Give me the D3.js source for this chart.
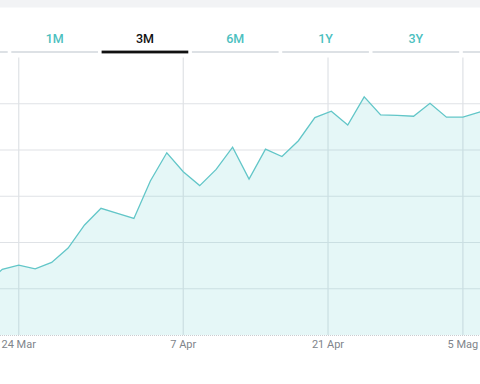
<!DOCTYPE html>
<html>
<head>
<meta charset="utf-8">
<script src="https://cdn.jsdelivr.net/npm/d3@7/dist/d3.min.js"></script>
<style>
  html, body { margin: 0; padding: 0; background: #fff; overflow: hidden; }
  svg { display: block; }
</style>
</head>
<body>
<svg id="chart" width="480" height="384"></svg>
<script>
// ---- data ----
const tabIds = ["t0", "t1", "t2", "t3", "t4", "t5", "t6"];
const tabLabels = ["", "1M", "3M", "6M", "1Y", "3Y", ""];
const activeTab = "t2";

const dates = [
  "2025-03-20","2025-03-21","2025-03-24","2025-03-25","2025-03-26","2025-03-27","2025-03-28",
  "2025-03-31","2025-04-01","2025-04-02","2025-04-03","2025-04-04","2025-04-07","2025-04-08",
  "2025-04-09","2025-04-10","2025-04-11","2025-04-14","2025-04-15","2025-04-16","2025-04-17",
  "2025-04-22","2025-04-23","2025-04-24","2025-04-25","2025-04-28","2025-04-29","2025-04-30",
  "2025-05-02","2025-05-05","2025-05-06","2025-05-07"
];
const values = [
  1.10, 1.42, 1.51, 1.43, 1.57, 1.88, 2.38,
  2.74, 2.63, 2.52, 3.33, 3.94, 3.53, 3.23,
  3.58, 4.06, 3.37, 4.02, 3.86, 4.20, 4.70,
  4.84, 4.54, 5.15, 4.76, 4.75, 4.73, 5.01,
  4.71, 4.71, 4.82, 4.87
];
const gridValues = [1, 2, 3, 4, 5];
const tickDates = ["2025-03-24", "2025-04-07", "2025-04-21", "2025-05-05"];
const tickLabels = ["24 Mar", "7 Apr", "21 Apr", "5 Mag"];

// ---- layout ----
const W = 480, H = 384;
const plotTop = 57.5, plotBottom = 335;
const svg = d3.select("#chart");
const parse = d3.timeParse("%Y-%m-%d");
const dt = dates.map(parse);

// top grey band
svg.append("rect").attr("x", 0).attr("y", 0).attr("width", W).attr("height", 7.5).attr("fill", "#f2f3f5");

// tabs
const tabX = d3.scaleBand().domain(tabIds).range([-80.8, 551.3]).paddingInner(0.04).paddingOuter(0.02);
const tabG = svg.append("g");
tabG.selectAll("rect.u").data(tabIds).join("rect")
  .attr("class", "u")
  .attr("x", d => tabX(d))
  .attr("width", tabX.bandwidth())
  .attr("y", d => d === activeTab ? 50.6 : 51)
  .attr("height", d => d === activeTab ? 2.8 : 2)
  .attr("fill", d => d === activeTab ? "#111111" : "#dde1e5");
tabG.selectAll("text").data(tabIds.filter((d, i) => tabLabels[i] !== "")).join("text")
  .attr("x", d => tabX(d) + tabX.bandwidth() / 2)
  .attr("y", 42.5)
  .attr("text-anchor", "middle")
  .attr("font-family", "Roboto, 'Open Sans', sans-serif")
  .attr("font-size", 12.5)
  .attr("font-weight", 500)
  .attr("fill", d => d === activeTab ? "#111111" : "#4cbfc0")
  .text(d => tabLabels[tabIds.indexOf(d)]);

// scales: trading-day index
const x = d3.scaleLinear().domain([1, 30]).range([2.3, 479.35]);
const y = d3.scaleLinear().domain([0, 6]).range([plotBottom, plotTop]);

// fractional index for a calendar date (interpolate between trading days)
function dateIndex(d) {
  const t = +d;
  for (let i = 0; i < dt.length - 1; i++) {
    if (t >= +dt[i] && t <= +dt[i + 1]) {
      return i + (t - dt[i]) / (dt[i + 1] - dt[i]);
    }
  }
  return dt.length - 1;
}
const tickIdx = tickDates.map(s => dateIndex(parse(s)));

// gridlines
const grid = svg.append("g");
grid.selectAll("line.h").data(gridValues).join("line")
  .attr("x1", 0).attr("x2", W)
  .attr("y1", d => y(d)).attr("y2", d => y(d))
  .attr("stroke", "#dfe2e6").attr("stroke-width", 1.2);
grid.selectAll("line.v").data(tickIdx).join("line")
  .attr("x1", d => x(d)).attr("x2", d => x(d))
  .attr("y1", plotTop).attr("y2", plotBottom)
  .attr("stroke", "#dfe2e6").attr("stroke-width", 1.2);

// area + line
const pts = values.map((v, i) => [i, v]);
const area = d3.area().x(d => x(d[0])).y0(y(0)).y1(d => y(d[1]));
const line = d3.line().x(d => x(d[0])).y(d => y(d[1]));

svg.append("path").datum(pts).attr("d", area)
  .attr("fill", "rgb(110,210,210)").attr("fill-opacity", 0.18);
svg.append("path").datum(pts).attr("d", line)
  .attr("fill", "none").attr("stroke", "#62c6c8").attr("stroke-width", 1.3)
  .attr("stroke-linejoin", "miter");

// bottom dotted baseline
svg.append("line")
  .attr("x1", 0).attr("x2", W).attr("y1", plotBottom + 0.5).attr("y2", plotBottom + 0.5)
  .attr("stroke", "#c9cdd1").attr("stroke-width", 1).attr("stroke-dasharray", "1,1");

// x labels
svg.append("g").selectAll("text").data(tickIdx).join("text")
  .attr("x", d => x(d))
  .attr("y", 347.5)
  .attr("text-anchor", "middle")
  .attr("font-family", "Roboto, 'Open Sans', sans-serif")
  .attr("font-size", 11)
  .attr("fill", "#80858b")
  .text((d, i) => tickLabels[i]);
</script>
</body>
</html>
